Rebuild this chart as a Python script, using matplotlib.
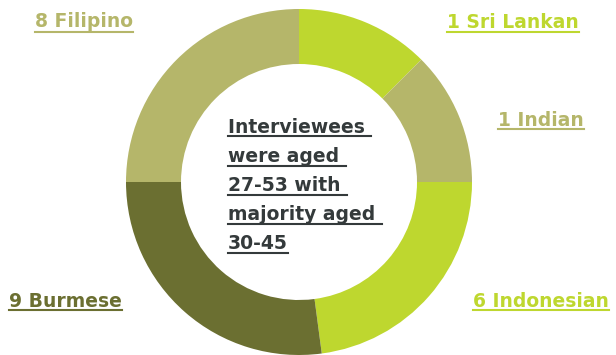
"""
Donut chart: nationality of interviewees, with a note in the middle.
"""
import matplotlib.pyplot as plt
from matplotlib.lines import Line2D

# -----------------------------------------------------------------------------
# Data (slice shares as drawn in the picture, count labels as printed)
# -----------------------------------------------------------------------------
groups = ["Sri Lankan", "Indian", "Indonesian", "Burmese", "Filipino"]
counts = [1, 1, 6, 9, 8]
shares = [12.5, 12.5, 22.9, 27.1, 25.0]
colors = ["#bed72f", "#b5b66a", "#bed72f", "#6b6f31", "#b5b66a"]

note_lines = ["Interviewees ", "were aged ", "27-53 with ", "majority aged ", "30-45"]

W, H = 616, 355
FONT = "DejaVu Sans"
TEXT_DARK = "#343a3b"
FS = 13.5

fig = plt.figure(figsize=(W / 100, H / 100), dpi=100)
ax = fig.add_axes([0, 0, 1, 1])

ax.pie(shares, colors=colors, startangle=90, counterclock=False, radius=1,
       wedgeprops=dict(width=55 / 173, linewidth=0))

# centre of donut at (299, 182) px from top-left, outer radius 173 px
R_PX = 173
cx, cy = 299, 182
ax.set_xlim(-cx / R_PX, (W - cx) / R_PX)
ax.set_ylim(-(H - cy) / R_PX, cy / R_PX)
ax.set_aspect("equal")
ax.axis("off")


def px(x, y):
    """pixel coords (from top-left) -> figure fraction"""
    return x / W, 1 - y / H


def underlined(x, y, s, color, size, uy):
    t = fig.text(*px(x, y), s, color=color, fontsize=size, fontweight="bold",
                 family=FONT, ha="left", va="baseline")
    fig.canvas.draw()
    bb = t.get_window_extent()
    x0, _ = px(x, 0)
    x1 = x0 + bb.width / W
    fig.add_artist(Line2D([x0, x1], [1 - uy / H] * 2, color=color, lw=1.5,
                          transform=fig.transFigure))
    return t


# labels: (x, baseline, underline y)
label_pos = {
    "Filipino": (35, 27, 31.5),
    "Sri Lankan": (447, 28, 32),
    "Indian": (498, 126, 129.5),
    "Indonesian": (473, 307, 310),
    "Burmese": (9, 307, 310),
}
for g, n, c in zip(groups, counts, colors):
    x, y, uy = label_pos[g]
    underlined(x, y, f"{n} {g}", c, FS, uy)

# centre note
for i, line in enumerate(note_lines):
    base = 133 + i * 29
    underlined(228, base, line, TEXT_DARK, FS, base + 3.5)

fig.savefig("out.png", dpi=100)
